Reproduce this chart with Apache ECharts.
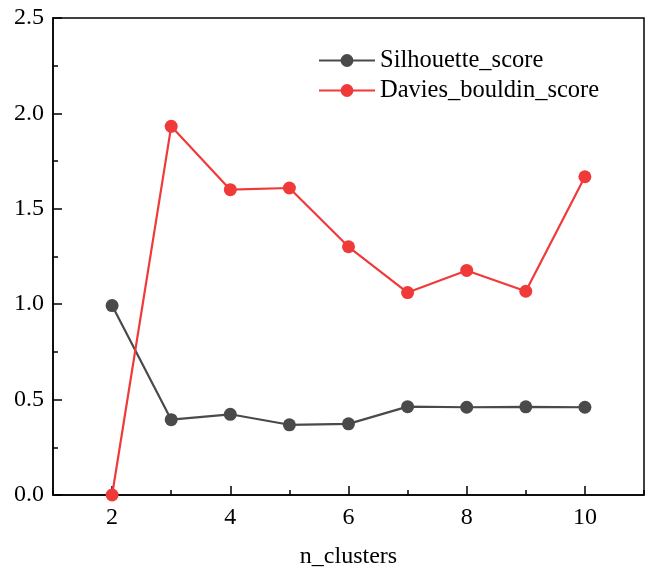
<!DOCTYPE html>
<html><head><meta charset="utf-8">
<script src="https://cdn.jsdelivr.net/npm/echarts@6/dist/echarts.min.js"></script>
<style>html,body{margin:0;padding:0;background:#fff}#c{width:649px;height:572px}</style>
</head><body><div id="c"></div>
<script>
const nClusters = [2,3,4,5,6,7,8,9,10];
const silhouette = [0.993,0.395,0.423,0.368,0.373,0.463,0.460,0.462,0.460];
const daviesBouldin = [0.0,1.932,1.600,1.609,1.301,1.061,1.177,1.068,1.668];
const xTickLabels = [2,4,6,8,10];
const xMinorTicks = [1,3,5,7,9,11];
const font = 'Liberation Serif';
const chart = echarts.init(document.getElementById('c'));
chart.setOption({
  animation:false,
  textStyle:{fontFamily:font},
  grid:{left:53,right:5,top:18,bottom:77,outerBoundsMode:'none',containLabel:false,show:true,borderColor:'#000',borderWidth:1.5,backgroundColor:'transparent'},
  legend:{
    data:['Silhouette_score','Davies_bouldin_score'],
    orient:'vertical', left:313, top:43, itemGap:5,
    itemWidth:56, itemHeight:16,
    textStyle:{fontFamily:font,fontSize:24.5,color:'#000'}
  },
  xAxis:[{
    type:'value', min:1, max:11,
    name:'n_clusters', nameLocation:'middle', nameGap:50,
    nameTextStyle:{fontFamily:font,fontSize:24,color:'#000'},
    axisLine:{lineStyle:{color:'#000',width:1.5}},
    axisTick:{inside:true,length:9,customValues:xTickLabels,lineStyle:{color:'#000',width:1.5}},
    splitLine:{show:false},
    axisLabel:{fontFamily:font,fontSize:24,color:'#000',margin:11,customValues:xTickLabels}
  },{
    type:'value', min:1, max:11, position:'bottom',
    axisLine:{show:false},
    axisTick:{show:true,inside:true,length:5,customValues:xMinorTicks,lineStyle:{color:'#000',width:1.5}},
    axisLabel:{show:false},
    splitLine:{show:false}
  }],
  yAxis:{
    type:'value', min:0, max:2.5, interval:0.5,
    axisLine:{show:true,lineStyle:{color:'#000',width:1.5}},
    axisTick:{show:true,inside:true,length:9,lineStyle:{color:'#000',width:1.5}},
    minorTick:{show:true,splitNumber:2,length:5,lineStyle:{color:'#000',width:1.5}},
    splitLine:{show:false},
    axisLabel:{fontFamily:font,fontSize:24,color:'#000',margin:9,formatter:v=>v.toFixed(1)}
  },
  series:[
    {name:'Silhouette_score',type:'line',data:nClusters.map((x,i)=>[x,silhouette[i]]),
     symbol:'circle',symbolSize:13,itemStyle:{color:'#4a4a4a'},lineStyle:{color:'#4a4a4a',width:2.2}},
    {name:'Davies_bouldin_score',type:'line',data:nClusters.map((x,i)=>[x,daviesBouldin[i]]),
     symbol:'circle',symbolSize:13,itemStyle:{color:'#f03a3a'},lineStyle:{color:'#f03a3a',width:2.2}}
  ]
});
</script></body></html>
